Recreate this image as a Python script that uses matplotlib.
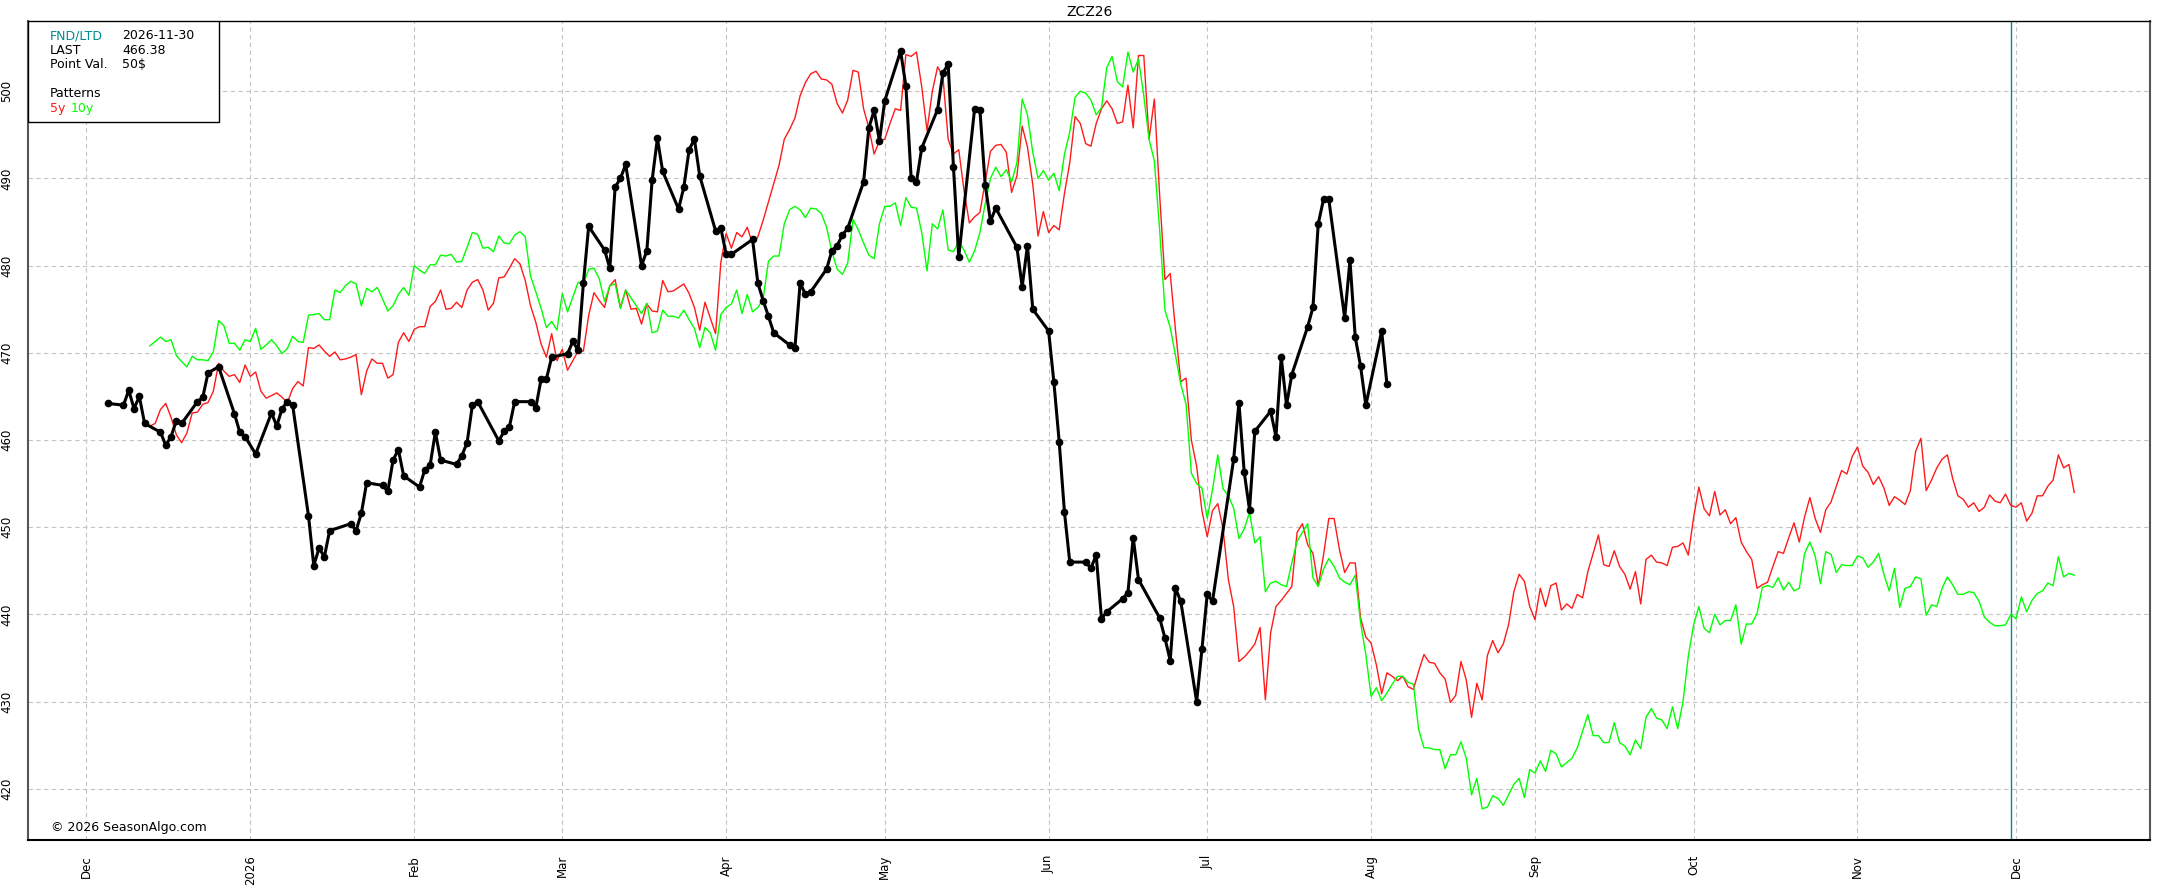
# ZCZ26 seasonal chart: actual price + 5y / 10y patterns
import pandas as pd
import matplotlib
matplotlib.use("Agg")
import matplotlib.pyplot as plt
from matplotlib.patches import Rectangle

# --- data ---
price_dates = [
    "2025-12-05", "2025-12-08", "2025-12-09", "2025-12-10", "2025-12-11", "2025-12-12",
    "2025-12-15", "2025-12-16", "2025-12-17", "2025-12-18", "2025-12-19", "2025-12-22",
    "2025-12-23", "2025-12-24", "2025-12-26", "2025-12-29", "2025-12-30", "2025-12-31",
    "2026-01-02", "2026-01-05", "2026-01-06", "2026-01-07", "2026-01-08", "2026-01-09",
    "2026-01-12", "2026-01-13", "2026-01-14", "2026-01-15", "2026-01-16", "2026-01-20",
    "2026-01-21", "2026-01-22", "2026-01-23", "2026-01-26", "2026-01-27", "2026-01-28",
    "2026-01-29", "2026-01-30", "2026-02-02", "2026-02-03", "2026-02-04", "2026-02-05",
    "2026-02-06", "2026-02-09", "2026-02-10", "2026-02-11", "2026-02-12", "2026-02-13",
    "2026-02-17", "2026-02-18", "2026-02-19", "2026-02-20", "2026-02-23", "2026-02-24",
    "2026-02-25", "2026-02-26", "2026-02-27", "2026-03-02", "2026-03-03", "2026-03-04",
    "2026-03-05", "2026-03-06", "2026-03-09", "2026-03-10", "2026-03-11", "2026-03-12",
    "2026-03-13", "2026-03-16", "2026-03-17", "2026-03-18", "2026-03-19", "2026-03-20",
    "2026-03-23", "2026-03-24", "2026-03-25", "2026-03-26", "2026-03-27", "2026-03-30",
    "2026-03-31", "2026-04-01", "2026-04-02", "2026-04-06", "2026-04-07", "2026-04-08",
    "2026-04-09", "2026-04-10", "2026-04-13", "2026-04-14", "2026-04-15", "2026-04-16",
    "2026-04-17", "2026-04-20", "2026-04-21", "2026-04-22", "2026-04-23", "2026-04-24",
    "2026-04-27", "2026-04-28", "2026-04-29", "2026-04-30", "2026-05-01", "2026-05-04",
    "2026-05-05", "2026-05-06", "2026-05-07", "2026-05-08", "2026-05-11", "2026-05-12",
    "2026-05-13", "2026-05-14", "2026-05-15", "2026-05-18", "2026-05-19", "2026-05-20",
    "2026-05-21", "2026-05-22", "2026-05-26", "2026-05-27", "2026-05-28", "2026-05-29",
    "2026-06-01", "2026-06-02", "2026-06-03", "2026-06-04", "2026-06-05", "2026-06-08",
    "2026-06-09", "2026-06-10", "2026-06-11", "2026-06-12", "2026-06-15", "2026-06-16",
    "2026-06-17", "2026-06-18", "2026-06-22", "2026-06-23", "2026-06-24", "2026-06-25",
    "2026-06-26", "2026-06-29", "2026-06-30", "2026-07-01", "2026-07-02", "2026-07-06",
    "2026-07-07", "2026-07-08", "2026-07-09", "2026-07-10", "2026-07-13", "2026-07-14",
    "2026-07-15", "2026-07-16", "2026-07-17", "2026-07-20", "2026-07-21", "2026-07-22",
    "2026-07-23", "2026-07-24", "2026-07-27", "2026-07-28", "2026-07-29", "2026-07-30",
    "2026-07-31", "2026-08-03", "2026-08-04",
]
price = [
    464.2, 464.0, 465.7, 463.6, 465.0, 461.9,
    460.9, 459.4, 460.4, 462.2, 461.9, 464.4,
    464.9, 467.7, 468.4, 463.0, 460.9, 460.4,
    458.4, 463.1, 461.6, 463.6, 464.4, 464.0,
    451.3, 445.6, 447.6, 446.6, 449.6, 450.4,
    449.6, 451.6, 455.1, 454.8, 454.1, 457.7,
    458.9, 455.9, 454.6, 456.6, 457.1, 460.9,
    457.7, 457.2, 458.2, 459.7, 464.0, 464.4,
    459.9, 461.0, 461.5, 464.4, 464.4, 463.7,
    467.0, 467.0, 469.5, 469.9, 471.3, 470.3,
    478.0, 484.5, 481.8, 479.7, 489.0, 490.0,
    491.6, 480.0, 481.7, 489.8, 494.6, 490.8,
    486.5, 489.0, 493.3, 494.5, 490.3, 484.0,
    484.3, 481.3, 481.3, 483.0, 478.0, 476.0,
    474.2, 472.3, 470.9, 470.5, 478.0, 476.7,
    477.0, 479.6, 481.7, 482.3, 483.5, 484.3,
    489.6, 495.8, 497.8, 494.3, 498.9, 504.6,
    500.6, 490.0, 489.6, 493.5, 497.9, 502.1,
    503.1, 491.3, 481.0, 498.0, 497.9, 489.3,
    485.1, 486.6, 482.1, 477.6, 482.3, 475.0,
    472.5, 466.6, 459.8, 451.7, 446.0, 446.0,
    445.3, 446.8, 439.5, 440.3, 441.8, 442.5,
    448.8, 444.0, 439.6, 437.3, 434.7, 443.0,
    441.5, 430.0, 436.0, 442.3, 441.5, 457.8,
    464.3, 456.3, 452.0, 461.0, 463.3, 460.4,
    469.5, 464.0, 467.5, 473.0, 475.2, 484.8,
    487.6, 487.6, 474.0, 480.6, 471.8, 468.5,
    464.0, 472.5, 466.38,
]

pattern_start = "2025-12-13"   # daily values from this date
red_5y = [
    461.6, 461.9, 463.5, 464.2, 462.6, 460.6, 459.7, 460.8, 463.1, 463.2,
    464.1, 464.3, 465.6, 468.8, 467.9, 467.3, 467.5, 466.6, 468.6, 467.3,
    467.8, 465.6, 464.8, 465.1, 465.4, 464.9, 464.3, 465.9, 466.7, 466.2,
    470.6, 470.5, 470.9, 470.2, 469.6, 470.1, 469.2, 469.3, 469.5, 469.8,
    465.2, 467.9, 469.3, 468.8, 468.8, 467.1, 467.5, 471.2, 472.3, 471.3,
    472.7, 473.0, 473.0, 475.3, 475.9, 477.2, 475.0, 475.1, 475.8, 475.2,
    477.2, 478.1, 478.4, 477.2, 474.9, 475.7, 478.6, 478.7, 479.7, 480.8,
    480.2, 478.3, 475.4, 473.5, 471.0, 469.5, 472.2, 469.1, 470.4, 468.0,
    469.1, 470.2, 470.2, 474.3, 476.9, 476.0, 475.2, 477.7, 478.4, 475.2,
    477.2, 475.0, 475.1, 473.3, 475.6, 474.8, 474.7, 478.3, 477.0, 477.1,
    477.5, 477.9, 476.8, 475.2, 472.6, 475.8, 474.0, 472.2, 480.4, 483.7,
    482.0, 483.8, 483.3, 484.4, 482.5, 483.3, 485.2, 487.3, 489.4, 491.5,
    494.5, 495.6, 496.9, 499.5, 501.0, 502.0, 502.3, 501.4, 501.3, 500.8,
    498.6, 497.5, 499.0, 502.4, 502.2, 498.0, 495.8, 492.8, 494.3, 494.5,
    496.3, 498.0, 497.8, 504.2, 504.0, 504.5, 500.5, 495.5, 500.0, 502.8,
    501.7, 494.5, 492.8, 493.3, 488.6, 484.9, 485.6, 486.1, 489.6, 493.1,
    493.8, 493.9, 493.0, 488.4, 490.3, 496.0, 493.6, 489.3, 483.4, 486.2,
    483.8, 484.6, 484.1, 488.3, 491.8, 497.1, 496.3, 494.0, 493.7, 496.3,
    498.0, 498.9, 498.0, 496.3, 496.5, 500.7, 495.8, 504.1, 504.1, 494.5,
    499.1, 488.1, 478.4, 479.1, 472.6, 466.7, 467.1, 460.0, 457.0, 451.9,
    448.9, 451.9, 452.7, 449.8, 444.0, 440.9, 434.6, 435.1, 435.8, 436.6,
    438.5, 430.2, 437.9, 440.9, 441.6, 442.4, 443.2, 449.4, 450.4, 448.0,
    447.0, 443.3, 446.8, 451.0, 451.0, 447.5, 444.8, 445.9, 445.9, 439.6,
    437.4, 436.7, 434.2, 430.9, 433.3, 432.9, 432.4, 432.9, 431.7, 431.4,
    433.5, 435.4, 434.5, 434.4, 433.3, 432.6, 429.9, 430.7, 434.6, 432.5,
    428.2, 432.1, 430.2, 435.3, 437.0, 435.6, 436.6, 438.8, 442.6, 444.6,
    443.8, 440.9, 439.4, 443.0, 440.9, 443.3, 443.6, 440.5, 441.2, 440.7,
    442.3, 441.9, 444.9, 447.0, 449.1, 445.7, 445.5, 447.3, 445.5, 444.6,
    442.9, 444.9, 441.2, 446.3, 446.8, 446.0, 445.9, 445.6, 447.7, 447.8,
    448.2, 446.8, 451.1, 454.6, 452.1, 451.3, 454.1, 451.4, 452.0, 450.4,
    451.1, 448.3, 447.2, 446.3, 443.0, 443.4, 443.7, 445.5, 447.2, 447.0,
    448.8, 450.5, 448.3, 451.2, 453.4, 451.0, 449.4, 452.0, 452.9, 454.7,
    456.5, 456.1, 458.1, 459.2, 457.0, 456.3, 454.9, 455.8, 454.5, 452.5,
    453.5, 453.1, 452.6, 454.2, 458.7, 460.2, 454.2, 455.4, 456.8, 457.8,
    458.3, 455.6, 453.6, 453.2, 452.3, 452.8, 451.8, 452.3, 453.7, 453.0,
    452.8, 453.8, 452.5, 452.3, 452.8, 450.7, 451.6, 453.6, 453.6, 454.7,
    455.4, 458.3, 456.8, 457.2, 454.0,
]
green_10y = [
    470.8, 471.3, 471.8, 471.3, 471.5, 469.7, 469.0, 468.4, 469.6, 469.2,
    469.2, 469.1, 470.1, 473.7, 473.1, 471.1, 471.1, 470.3, 471.5, 471.3,
    472.8, 470.4, 470.9, 471.5, 470.8, 469.9, 470.5, 471.9, 471.3, 471.2,
    474.3, 474.4, 474.5, 473.8, 473.8, 477.2, 476.9, 477.7, 478.2, 477.9,
    475.4, 477.4, 477.0, 477.5, 476.2, 474.8, 475.4, 476.7, 477.5, 476.6,
    480.0, 479.5, 479.1, 480.1, 480.1, 481.2, 481.1, 481.3, 480.4, 480.5,
    482.1, 483.8, 483.6, 482.0, 482.1, 481.6, 483.4, 482.6, 482.5, 483.5,
    483.9, 483.3, 478.8, 477.0, 475.1, 472.9, 473.6, 472.6, 476.8, 474.7,
    476.4, 478.1, 477.9, 479.6, 479.7, 478.5, 475.9, 477.7, 477.9, 475.1,
    477.2, 476.3, 475.4, 474.5, 475.7, 472.3, 472.5, 474.9, 474.2, 474.2,
    474.0, 474.9, 473.8, 472.8, 470.6, 472.9, 472.3, 470.3, 474.4, 475.2,
    475.6, 477.2, 474.5, 476.7, 474.7, 475.2, 476.2, 480.5, 481.1, 481.1,
    484.8, 486.4, 486.8, 486.4, 485.5, 486.6, 486.5, 486.0, 484.4, 481.6,
    479.6, 479.0, 480.3, 485.3, 484.1, 482.6, 481.2, 480.8, 484.8, 486.8,
    486.8, 487.2, 484.6, 487.8, 486.7, 486.6, 483.8, 479.4, 484.8, 484.2,
    486.4, 481.8, 481.6, 482.8, 481.8, 480.4, 481.7, 483.8, 487.1, 490.0,
    491.3, 490.2, 491.0, 489.6, 491.8, 499.1, 497.3, 493.0, 490.0, 490.9,
    489.8, 490.6, 488.6, 492.8, 495.3, 499.3, 500.0, 499.8, 499.0, 497.3,
    498.1, 502.7, 504.0, 501.1, 500.5, 504.5, 502.2, 503.7, 499.5, 494.5,
    492.0, 484.1, 474.9, 472.9, 469.7, 466.4, 464.1, 456.2, 455.0, 454.5,
    451.0, 454.3, 458.3, 454.4, 453.6, 452.2, 448.7, 449.8, 451.7, 448.2,
    448.9, 442.6, 443.6, 443.8, 443.4, 443.2, 445.9, 448.4, 449.4, 450.4,
    444.2, 443.2, 445.2, 446.4, 445.5, 444.2, 443.7, 443.4, 444.5, 439.1,
    435.4, 430.6, 431.6, 430.1, 431.0, 432.0, 432.9, 432.9, 432.2, 432.0,
    426.8, 424.7, 424.7, 424.5, 424.5, 422.3, 423.9, 423.9, 425.4, 423.5,
    419.3, 421.2, 417.7, 417.9, 419.2, 418.9, 418.1, 419.3, 420.5, 421.2,
    419.0, 422.2, 421.8, 423.2, 422.0, 424.4, 424.0, 422.5, 423.0, 423.5,
    424.7, 426.6, 428.5, 426.1, 426.1, 425.3, 425.3, 427.6, 425.3, 424.9,
    423.9, 425.6, 424.6, 428.2, 429.2, 428.1, 427.9, 426.9, 429.4, 426.9,
    430.0, 435.2, 438.8, 440.9, 438.4, 437.9, 440.0, 438.8, 439.3, 439.3,
    441.1, 436.6, 438.9, 438.9, 440.1, 443.1, 443.3, 443.1, 444.2, 442.8,
    443.7, 442.7, 443.0, 447.0, 448.3, 446.7, 443.5, 447.2, 446.9, 444.8,
    445.7, 445.6, 445.6, 446.7, 446.5, 445.4, 446.0, 447.0, 444.6, 442.7,
    445.3, 440.8, 443.0, 443.2, 444.3, 444.1, 439.9, 441.1, 440.9, 443.0,
    444.3, 443.4, 442.3, 442.3, 442.6, 442.5, 441.5, 439.7, 439.1, 438.7,
    438.7, 438.8, 440.0, 439.5, 442.0, 440.3, 441.6, 442.4, 442.7, 443.6,
    443.3, 446.6, 444.3, 444.7, 444.5,
]

month_ticks = ["2025-12-01", "2026-01-01", "2026-02-01", "2026-03-01", "2026-04-01",
               "2026-05-01", "2026-06-01", "2026-07-01", "2026-08-01", "2026-09-01",
               "2026-10-01", "2026-11-01", "2026-12-01"]
month_labels = ["Dec", "2026", "Feb", "Mar", "Apr", "May", "Jun", "Jul", "Aug",
                "Sep", "Oct", "Nov", "Dec"]
y_ticks = [420, 430, 440, 450, 460, 470, 480, 490, 500]

fnd_ltd = "2026-11-30"
last_val = "466.38"
point_val = "50$"

# --- plot ---
fig = plt.figure(figsize=(21.62, 8.88), dpi=100)
ax = fig.add_axes([0.01309, 0.05428, 0.98136, 0.92151])

pat_dates = pd.date_range(pattern_start, periods=len(red_5y), freq="D")
ax.plot(pat_dates, red_5y, color="#ff1a1a", lw=1.0, zorder=3)
ax.plot(pat_dates, green_10y, color="#00ff00", lw=1.0, zorder=3)
ax.plot(pd.to_datetime(price_dates), price, color="black", lw=2.2,
        marker="o", markersize=4.5, zorder=4)

ax.axvline(pd.Timestamp(fnd_ltd), color="#008b8b", lw=1.0, zorder=2)

ax.set_xlim(pd.Timestamp("2025-11-20"), pd.Timestamp("2026-12-26 08:00"))
ax.set_ylim(414.15, 508.0)

ax.set_xticks(pd.to_datetime(month_ticks))
ax.set_xticklabels(month_labels, rotation=90)
ax.set_yticks(y_ticks)
ax.set_yticklabels([str(v) for v in y_ticks], rotation=90, va="center")
ax.tick_params(axis="both", length=0, pad=11, labelsize=8.5)

ax.grid(True, color="#c4c4c4", linestyle=(0, (4, 3)), lw=0.8)
ax.set_axisbelow(True)

ax.spines["top"].set_color("black")
ax.spines["top"].set_linewidth(1.0)
ax.spines["bottom"].set_color("black")
ax.spines["bottom"].set_linewidth(1.5)
for s in ["left", "right"]:
    ax.spines[s].set_color("#555555")
    ax.spines[s].set_linewidth(1.5)

ax.set_title("ZCZ26", fontsize=10, pad=4)

# info box (top-left)
ax.add_patch(Rectangle((0, 0.8772), 0.0899, 0.1228, transform=ax.transAxes,
                       facecolor="white", edgecolor="black", lw=1.0, zorder=6))
tx, vx = 0.0102, 0.0442
ax.text(tx, 0.9823, "FND/LTD", color="#008b8b", fontsize=9, va="center", transform=ax.transAxes, zorder=7)
ax.text(vx, 0.9823, fnd_ltd, color="black", fontsize=9, va="center", transform=ax.transAxes, zorder=7)
ax.text(tx, 0.9643, "LAST", color="black", fontsize=9, va="center", transform=ax.transAxes, zorder=7)
ax.text(vx, 0.9643, last_val, color="black", fontsize=9, va="center", transform=ax.transAxes, zorder=7)
ax.text(tx, 0.9477, "Point Val.", color="black", fontsize=9, va="center", transform=ax.transAxes, zorder=7)
ax.text(vx, 0.9477, point_val, color="black", fontsize=9, va="center", transform=ax.transAxes, zorder=7)
ax.text(tx, 0.9123, "Patterns", color="black", fontsize=9, va="center", transform=ax.transAxes, zorder=7)
ax.text(tx, 0.8939, "5y", color="#ff1a1a", fontsize=9, va="center", transform=ax.transAxes, zorder=7)
ax.text(0.0201, 0.8939, "10y", color="#00ff00", fontsize=9, va="center", transform=ax.transAxes, zorder=7)

ax.text(0.0107, 0.0149, "\u00a9 2026 SeasonAlgo.com", fontsize=9, va="center",
        transform=ax.transAxes, zorder=7)

fig.savefig("out.png", dpi=100)
